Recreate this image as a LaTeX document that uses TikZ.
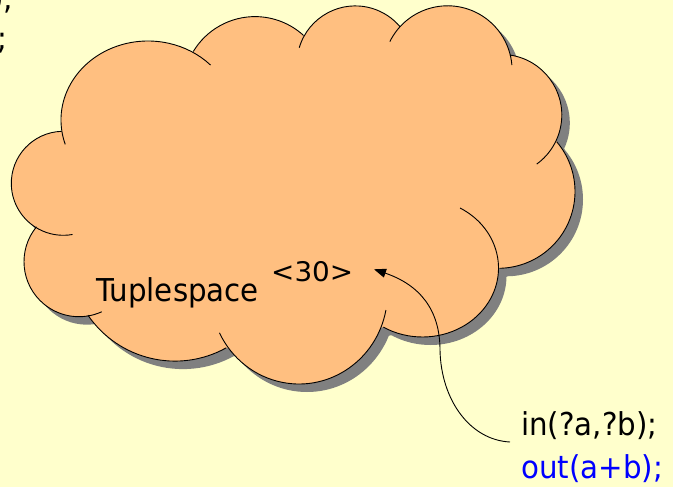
\documentclass[tikz,border=0pt]{standalone}
\usepackage{fontspec}
\usetikzlibrary{arrows.meta}
\newfontfamily\slidefont[FakeStretch=0.93]{DejaVu Sans}
\newfontfamily\tuplefont[FakeStretch=1.03]{DejaVu Sans}
\definecolor{slidebg}{RGB}{255,255,204}
\definecolor{cloudfill}{RGB}{255,191,128}
\definecolor{cloudshade}{RGB}{128,128,128}
\definecolor{codeblue}{RGB}{0,0,255}

% filled body of the cloud (bumps + core polygon), shifted by (#1,#2)
\newcommand\cloudpatch[3]{%
  \fill[#3] (148+#1,120+#2) ellipse[x radius=87,y radius=79];
  \fill[#3] (255+#1,88.6+#2) circle[radius=72];
  \fill[#3] (355.3+#1,64.4+#2) circle[radius=58.5];
  \fill[#3] (447.6+#1,70.3+#2) circle[radius=64.5];
  \fill[#3] (501.2+#1,115+#2) circle[radius=60.6];
  \fill[#3] (498.2+#1,191.5+#2) circle[radius=76.8];
  \fill[#3] (422.5+#1,268+#2) ellipse[x radius=76,y radius=69];
  \fill[#3] (299+#1,293+#2) ellipse[x radius=88.5,y radius=91];
  \fill[#3] (175+#1,255.6+#2) circle[radius=105.5];
  \fill[#3] (79+#1,261.7+#2) circle[radius=55];
  \fill[#3] (63.3+#1,183.3+#2) circle[radius=52];
  \fill[#3] (61.7+#1,131.7+#2) -- (194+#1,51.7+#2) -- (304+#1,35+#2)
    -- (400+#1,26.7+#2) -- (510+#1,55+#2) -- (556.7+#1,141.7+#2)
    -- (499.3+#1,268.3+#2) -- (383.3+#1,327.3+#2) -- (226.7+#1,348.3+#2)
    -- (88.3+#1,315+#2) -- (38.3+#1,228.3+#2) -- cycle;
}

% one stroked bump: centre, radii, start and end angle
\newcommand\bump[6]{%
  \draw[cloudline] (#1,#2) ++(#5:#3 and #4)
    arc[start angle=#5,end angle=#6,x radius=#3,y radius=#4];
}

\begin{document}
\begin{tikzpicture}[x=1pt,y=1pt,yscale=-1,
  cloudline/.style={draw=black,line width=0.9pt},
  codetext/.style={font=\slidefont\fontsize{31.5}{37}\selectfont,inner sep=0pt},
  tupletext/.style={font=\tuplefont\fontsize{27}{32}\selectfont,inner sep=0pt},
  linkline/.style={draw=black,line width=0.9pt,-{Triangle[length=12pt,width=9pt]}}]

\useasboundingbox (0,0) rectangle (673,487);
\fill[slidebg] (0,0) rectangle (673,487);

% shadow, then the cloud itself
\cloudpatch{8}{8}{cloudshade}
\cloudpatch{0}{0}{cloudfill}

% outlines of the bumps, each running a little past its cusps
\bump{148}{120}{87}{79}{162}{316}
\bump{255}{88.6}{72}{72}{211}{312.4}
\bump{355.3}{64.4}{58.5}{58.5}{196.6}{319.9}
\bump{447.6}{70.3}{64.5}{64.5}{206.4}{355.3}
\bump{501.2}{115}{60.6}{60.6}{278.3}{414.1}
\bump{498.2}{191.5}{76.8}{76.8}{319.6}{449.2}
\bump{422.5}{268}{76}{69}{299.6}{481}
\bump{299}{293}{88.5}{91}{10.8}{154}
\bump{175}{255.6}{105.5}{105.5}{60.9}{145.6}
\bump{79}{261.7}{55}{55}{219.4}{65.6}
\bump{63.3}{183.3}{52}{52}{268.2}{79.8}

% code lines running off the left edge
\node[codetext,anchor=base east] (codeA) at (14,10) {);};
\node[codetext,anchor=base east] (codeB) at (8,50) {;};

% labels inside the cloud
\node[codetext,anchor=base west] (space) at (96,301.7) {Tuplespace};
\node[tupletext,anchor=base west] (tuple) at (271,281.7) {<30>};

% process code
\node[codetext,anchor=base west] (inop) at (521,435) {in(?a,?b);};
\node[codetext,anchor=base west,text=codeblue] (outop) at (521,478) {out(a+b);};

% in() withdraws the tuple
\coordinate (linkstart) at (510,442);
\coordinate (linktip) at (374,269.3);
\draw[linkline] (linkstart) .. controls (470,440) and (441,400) .. (440,350)
  .. controls (440,310) and (420,285) .. (linktip);

\end{tikzpicture}
\end{document}
